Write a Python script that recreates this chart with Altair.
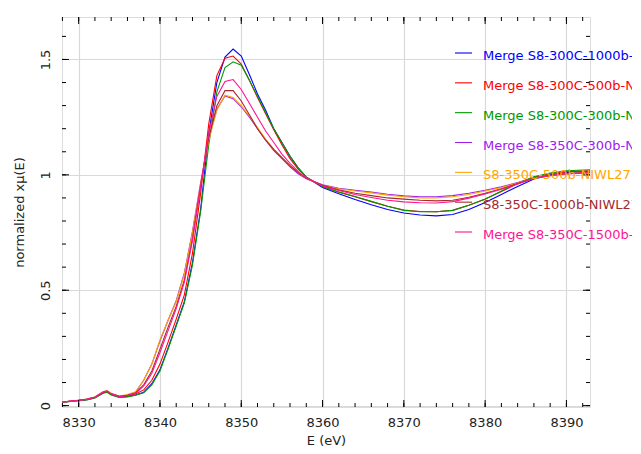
import altair as alt
import pandas as pd

# ---------------- data ----------------
names = [
    "Merge S8-300C-1000b-NIWL27",
    "Merge S8-300C-500b-NIWL27",
    "Merge S8-300C-300b-NIWL27",
    "Merge S8-350C-300b-NIWL27",
    "S8-350C-500b-NIWL27",
    "S8-350C-1000b-NIWL27",
    "Merge S8-350C-1500b-NIWL27",
]
colors = ["#0000ff", "#ff0000", "#009a00", "#a020f0", "#ffa500", "#a52a2a", "#ff1493"]

energy = [8328, 8330, 8331, 8332, 8333, 8333.5, 8334, 8335, 8336, 8337,
          8338, 8339, 8340, 8341, 8342, 8343, 8344, 8345, 8346, 8347, 8348,
          8349, 8350, 8351, 8352, 8353, 8354, 8355, 8356, 8357, 8358,
          8360, 8362, 8364, 8366, 8368, 8370, 8372, 8374, 8376, 8378, 8380,
          8382, 8384, 8386, 8388, 8390, 8393]

s_blue = [0.015, 0.022, 0.026, 0.034, 0.055, 0.060, 0.048, 0.036, 0.040, 0.046,
          0.058, 0.095, 0.155, 0.25, 0.35, 0.45, 0.62, 0.85, 1.18, 1.40, 1.51,
          1.545, 1.515, 1.435, 1.35, 1.28, 1.20, 1.14, 1.08, 1.03, 0.99,
          0.945, 0.918, 0.893, 0.870, 0.850, 0.835, 0.826, 0.822, 0.828, 0.850, 0.880,
          0.915, 0.950, 0.982, 1.000, 1.010, 1.015]
s_red = [0.015, 0.022, 0.027, 0.035, 0.057, 0.062, 0.050, 0.038, 0.042, 0.050,
         0.068, 0.11, 0.18, 0.275, 0.375, 0.48, 0.66, 0.92, 1.22, 1.43, 1.505,
         1.515, 1.48, 1.41, 1.335, 1.265, 1.195, 1.13, 1.07, 1.025, 0.99,
         0.950, 0.925, 0.905, 0.884, 0.864, 0.848, 0.841, 0.840, 0.846, 0.868, 0.895,
         0.928, 0.962, 0.990, 1.005, 1.014, 1.018]
s_green = [0.015, 0.021, 0.025, 0.033, 0.054, 0.058, 0.046, 0.035, 0.038, 0.045,
           0.056, 0.09, 0.15, 0.245, 0.345, 0.445, 0.61, 0.84, 1.13, 1.36, 1.465,
           1.49, 1.475, 1.41, 1.34, 1.27, 1.20, 1.14, 1.08, 1.03, 0.99,
           0.950, 0.926, 0.906, 0.885, 0.864, 0.846, 0.840, 0.840, 0.846, 0.868, 0.894,
           0.930, 0.965, 0.992, 1.008, 1.018, 1.022]
s_purple = [0.016, 0.023, 0.028, 0.037, 0.060, 0.064, 0.052, 0.040, 0.046, 0.058,
            0.11, 0.18, 0.28, 0.37, 0.455, 0.575, 0.755, 0.965, 1.155, 1.285, 1.342,
            1.33, 1.295, 1.25, 1.20, 1.15, 1.105, 1.07, 1.035, 1.005, 0.983,
            0.957, 0.942, 0.933, 0.925, 0.916, 0.909, 0.905, 0.905, 0.910, 0.920, 0.933,
            0.948, 0.967, 0.985, 0.996, 1.004, 1.010]
s_orange = [0.016, 0.023, 0.028, 0.037, 0.060, 0.065, 0.053, 0.041, 0.048, 0.060,
            0.11, 0.18, 0.285, 0.37, 0.45, 0.57, 0.75, 0.96, 1.15, 1.28, 1.345,
            1.335, 1.30, 1.255, 1.205, 1.155, 1.11, 1.075, 1.04, 1.01, 0.985,
            0.955, 0.940, 0.930, 0.922, 0.912, 0.905, 0.900, 0.900, 0.905, 0.915, 0.930,
            0.945, 0.965, 0.985, 0.996, 1.005, 1.012]
s_brown = [0.016, 0.023, 0.027, 0.036, 0.058, 0.063, 0.051, 0.040, 0.045, 0.055,
           0.09, 0.15, 0.245, 0.34, 0.43, 0.545, 0.725, 0.95, 1.16, 1.30, 1.365,
           1.365, 1.32, 1.26, 1.20, 1.15, 1.11, 1.075, 1.04, 1.01, 0.985,
           0.955, 0.935, 0.920, 0.910, 0.900, 0.895, 0.890, 0.887, 0.890, 0.903, 0.920,
           0.940, 0.962, 0.985, 0.997, 1.005, 1.010]
s_pink = [0.016, 0.023, 0.027, 0.036, 0.058, 0.063, 0.051, 0.039, 0.044, 0.053,
          0.085, 0.14, 0.23, 0.325, 0.42, 0.535, 0.715, 0.95, 1.18, 1.34, 1.405,
          1.413, 1.37, 1.31, 1.25, 1.19, 1.14, 1.09, 1.05, 1.015, 0.985,
          0.953, 0.932, 0.915, 0.902, 0.890, 0.883, 0.879, 0.878, 0.884, 0.899, 0.917,
          0.938, 0.960, 0.984, 0.997, 1.006, 1.010]

series_values = [s_blue, s_red, s_green, s_purple, s_orange, s_brown, s_pink]

x_major = [8330, 8340, 8350, 8360, 8370, 8380, 8390]
x_minor = list(range(8328, 8393, 2))
y_major = [0, 0.5, 1, 1.5]
y_minor = [round(i * 0.1, 1) for i in range(0, 17)]

title_text = "Sero"

# ---------------- build ----------------
rows = []
for k, (nm, vals) in enumerate(zip(names, series_values)):
    for e, v in zip(energy, vals):
        rows.append({"series": nm, "k": k, "E": e, "v": v})
df = pd.DataFrame(rows)

W, H = 528, 390
xdom = [8327.95, 8392.9]
ydom = [-0.006, 1.684]
xscale = alt.Scale(domain=xdom, nice=False, zero=False)
yscale = alt.Scale(domain=ydom, nice=False, zero=False)
cscale = alt.Scale(domain=names, range=colors)

FONT = "DejaVu Sans"

xaxis = alt.Axis(
    title="E (eV)", values=x_major, format="d", ticks=False, domain=False,
    grid=True, gridColor="#d9d9d9", gridWidth=1.2,
    labelFont=FONT, labelFontSize=13, labelColor="#222", labelPadding=15,
    labelBaseline="middle", labelFlush=False,
    titleFont=FONT, titleFontSize=13, titleFontWeight="normal", titleColor="#222",
    titleY=33, titleBaseline="middle")
yaxis = alt.Axis(
    title="normalized xμ(E)", values=y_major, format="~g", ticks=False, domain=False,
    grid=True, gridColor="#d9d9d9", gridWidth=1.2,
    labelFont=FONT, labelFontSize=13, labelColor="#222", labelPadding=17,
    labelAngle=270, labelAlign="center", labelBaseline="middle", labelFlush=False,
    titleFont=FONT, titleFontSize=13, titleFontWeight="normal", titleColor="#222",
    titleX=-43, titleBaseline="middle")

X = alt.X("E:Q", scale=xscale, axis=xaxis)
Y = alt.Y("v:Q", scale=yscale, axis=yaxis)

lines = alt.Chart(df).mark_line(strokeWidth=1.1, clip=True).encode(
    x=X, y=Y,
    color=alt.Color("series:N", scale=cscale, legend=None),
    detail="k:O",
)

dfx_maj = pd.DataFrame({"E": x_major})
dfx_min = pd.DataFrame({"E": x_minor})
dfy_maj = pd.DataFrame({"v": y_major})
dfy_min = pd.DataFrame({"v": y_minor})

def xticks(d, L):
    base = alt.Chart(d).mark_rule(color="black", strokeWidth=1)
    bot = base.encode(x=X, y=alt.value(H), y2=alt.value(H - L))
    top = base.encode(x=X, y=alt.value(0), y2=alt.value(L))
    return [bot, top]

def yticks(d, L):
    base = alt.Chart(d).mark_rule(color="black", strokeWidth=1)
    left = base.encode(y=Y, x=alt.value(0), x2=alt.value(L))
    right = base.encode(y=Y, x=alt.value(W), x2=alt.value(W - L))
    return [left, right]

tick_layers = xticks(dfx_min, 4) + xticks(dfx_maj, 7) + yticks(dfy_min, 4) + yticks(dfy_maj, 7)

main = alt.layer(lines, *tick_layers)

# legend drawn as marks
dleg = pd.DataFrame({"series": names, "row": list(range(len(names)))})
legy = alt.Y("row:O", scale=alt.Scale(type="point", domain=list(range(len(names))),
                                       range=[36, 215], padding=0), axis=None)
leg_lines = alt.Chart(dleg).mark_rule(strokeWidth=1.1).encode(
    y=legy, x=alt.value(393), x2=alt.value(410),
    color=alt.Color("series:N", scale=cscale, legend=None))
leg_text = alt.Chart(dleg).mark_text(align="left", baseline="middle", dy=3,
                                     font=FONT, fontSize=13).encode(
    y=legy, x=alt.value(421), text="series:N",
    color=alt.Color("series:N", scale=cscale, legend=None))
legend = alt.layer(leg_lines, leg_text)

dtitle = pd.DataFrame({"t": [title_text]})
title = alt.Chart(dtitle).mark_text(align="center", baseline="alphabetic",
                                    font=FONT, fontSize=11, color="#444").encode(
    x=alt.value(W / 2), y=alt.value(-11), text="t:N")

chart = alt.layer(main, legend, title).resolve_scale(y="independent").properties(
    width=W, height=H,
    padding={"left": 54, "top": 9, "right": 42, "bottom": 39},
    autosize=alt.AutoSizeParams(type="none"),
).configure_view(stroke="black", strokeWidth=1).configure(background="white")

chart.save("out.html", embed_options={"renderer": "svg", "actions": False})
